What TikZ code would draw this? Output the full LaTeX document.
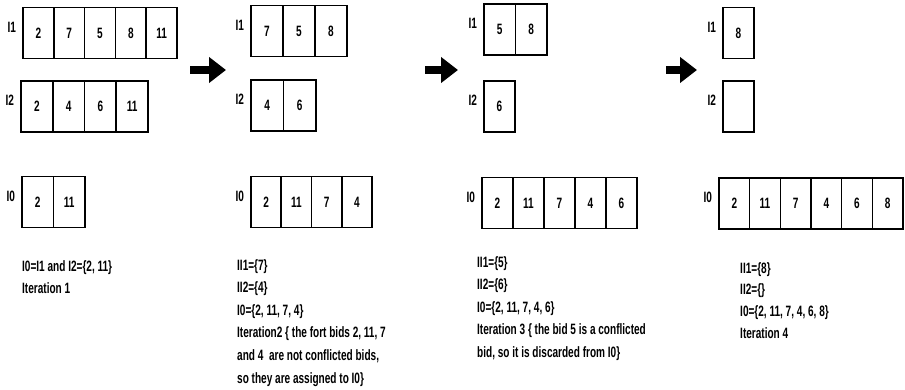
\documentclass[tikz,border=0pt]{standalone}
\usepackage{fontspec}
\setmainfont{Liberation Sans}[FakeStretch=0.67]
\usetikzlibrary{arrows.meta}
\begin{document}
\begin{tikzpicture}[x=1pt,y=-1pt,
  txt/.style={font=\fontsize{15}{17}\selectfont\bfseries, inner sep=0pt},
  cell/.style={draw, line width=1.6pt, txt, minimum height=51pt},
  lab/.style={txt, anchor=east, xshift=-6pt, yshift=6pt},
  line/.style={txt, anchor=base west},
  blockarrow/.style={line width=8pt, -{Triangle[length=17pt,width=25pt]}}]
\useasboundingbox (0,0) rectangle (905,390);

% ---------- Iteration 1 ----------
\foreach \v [count=\i] in {2,7,5,8,11}
  \node[cell, minimum width=30.8pt] (p1a\i) at ({23+30.8*(\i-0.5)},33) {\v};
\foreach \v [count=\i] in {2,4,6,11}
  \node[cell, minimum width=31.75pt] (p1b\i) at ({21+31.75*(\i-0.5)},106.5) {\v};
\foreach \v [count=\i] in {2,11}
  \node[cell, minimum width=31.5pt] (p1c\i) at ({22+31.5*(\i-0.5)},202) {\v};
\node[lab] (p1la) at (p1a1.west) {I1};
\node[lab] (p1lb) at (p1b1.west) {I2};
\node[lab] (p1lc) at (p1c1.west) {I0};
\foreach \t [count=\i] in {{I0=I1 and I2=\{2, 11\}}, Iteration 1}
  \node[line] (p1t\i) at (22,{271+22*(\i-1)}) {\t};

% ---------- Iteration 2 ----------
\foreach \v [count=\i] in {7,5,8}
  \node[cell, minimum width=32pt] (p2a\i) at ({251+32*(\i-0.5)},31) {\v};
\foreach \v [count=\i] in {4,6}
  \node[cell, minimum width=32.5pt] (p2b\i) at ({251+32.5*(\i-0.5)},105.5) {\v};
\foreach \v [count=\i] in {2,11,7,4}
  \node[cell, minimum width=30.25pt] (p2c\i) at ({251+30.25*(\i-0.5)},202) {\v};
\node[lab] (p2la) at (p2a1.west) {I1};
\node[lab] (p2lb) at (p2b1.west) {I2};
\node[lab] (p2lc) at (p2c1.west) {I0};
\foreach \t [count=\i] in {II1=\{7\}, II2=\{4\}, {I0=\{2, 11, 7, 4\}},
    {Iteration2 \{ the fort bids 2, 11, 7}, {and 4\ \ are not conflicted bids,},
    so they are assigned to I0\}}
  \node[line] (p2t\i) at (237,{270+22.6*(\i-1)}) {\t};

% ---------- Iteration 3 ----------
\foreach \v [count=\i] in {5,8}
  \node[cell, minimum width=31.5pt] (p3a\i) at ({484+31.5*(\i-0.5)},29.5) {\v};
\node[cell, minimum width=31pt] (p3b1) at (499.5,106.5) {6};
\foreach \v [count=\i] in {2,11,7,4,6}
  \node[cell, minimum width=31pt] (p3c\i) at ({482+31*(\i-0.5)},203) {\v};
\node[lab] (p3la) at (p3a1.west) {I1};
\node[lab] (p3lb) at (p3b1.west) {I2};
\node[lab] (p3lc) at (p3c1.west) {I0};
\foreach \t [count=\i] in {II1=\{5\}, II2=\{6\}, {I0=\{2, 11, 7, 4, 6\}},
    {Iteration 3 \{ the bid 5 is a conflicted}, {bid, so it is discarded from I0\}}}
  \node[line] (p3t\i) at (477,{267+22.5*(\i-1)}) {\t};

% ---------- Iteration 4 ----------
\node[cell, minimum width=31pt] (p4a1) at (738.5,33) {8};
\node[cell, minimum width=31pt] (p4b1) at (738.5,106.5) {};
\foreach \v [count=\i] in {2,11,7,4,6,8}
  \node[cell, minimum width=30.67pt] (p4c\i) at ({719+30.67*(\i-0.5)},203.5) {\v};
\node[lab] (p4la) at (p4a1.west) {I1};
\node[lab] (p4lb) at (p4b1.west) {I2};
\node[lab] (p4lc) at (p4c1.west) {I0};
\foreach \t [count=\i] in {II1=\{8\}, II2=\{\}, {I0=\{2, 11, 7, 4, 6, 8\}}, Iteration 4}
  \node[line] (p4t\i) at (740,{273+21.7*(\i-1)}) {\t};

% ---------- arrows between iterations ----------
\coordinate (ar1s) at (190,70);  \coordinate (ar1e) at (226,70);
\coordinate (ar2s) at (425,70);  \coordinate (ar2e) at (458,70);
\coordinate (ar3s) at (666,70);  \coordinate (ar3e) at (697,70);
\draw[blockarrow] (ar1s) -- (ar1e);
\draw[blockarrow] (ar2s) -- (ar2e);
\draw[blockarrow] (ar3s) -- (ar3e);
\end{tikzpicture}
\end{document}
